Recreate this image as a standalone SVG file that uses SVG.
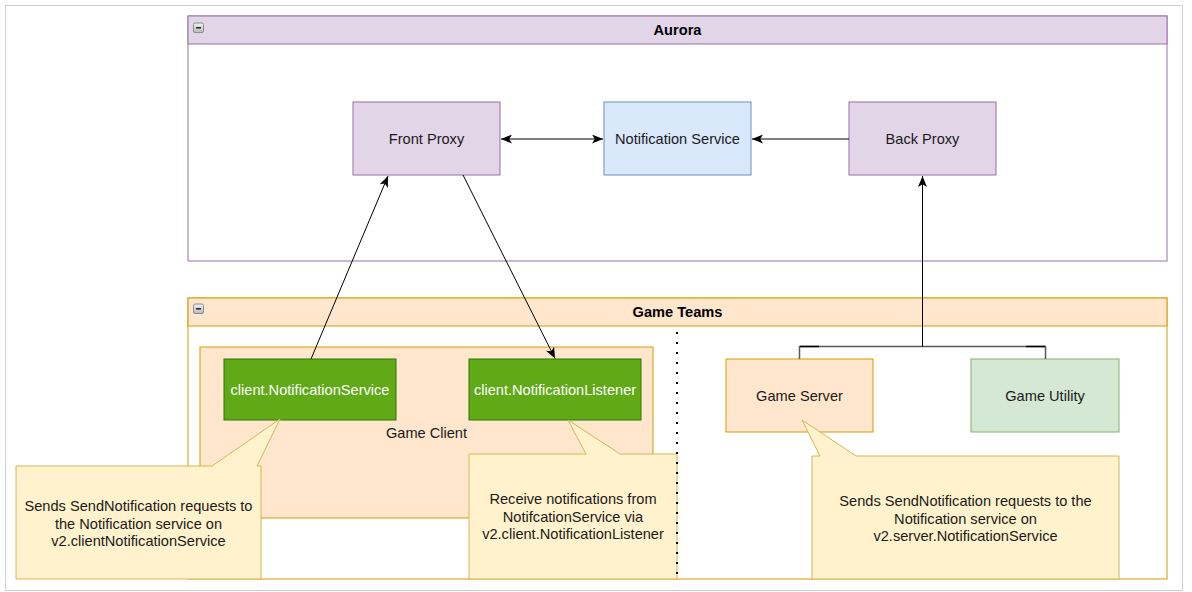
<svg xmlns="http://www.w3.org/2000/svg" width="1192" height="592" viewBox="0 0 1192 592">
  <style>
    text { font-family: "Liberation Sans", Arial, sans-serif; font-size: 14.6px; fill: #1a1a1a; text-anchor: middle; }
    .title { font-weight: bold; fill: #000; }
    .white { fill: #ffffff; }
    .purple { fill: #e1d5e7; stroke: #9673a6; stroke-width: 1; }
    .blue { fill: #dae8fc; stroke: #6c8ebf; stroke-width: 1; }
    .orange { fill: #ffe6cc; stroke: #d79b00; stroke-width: 1; }
    .green { fill: #d5e8d4; stroke: #82b366; stroke-width: 1; }
    .dgreen { fill: #60a917; stroke: #2d7600; stroke-width: 1; }
    .callout { fill: #fff2cc; stroke: #d6b656; stroke-width: 1; }
    .edge { fill: none; stroke: #000; stroke-width: 1; }
    .icon { fill: url(#ig); stroke: #8c8c8c; stroke-width: 1; }
  </style>
  <defs>
    <linearGradient id="ig" x1="0" y1="0" x2="0" y2="1">
      <stop offset="0" stop-color="#f2f2f2"/>
      <stop offset="1" stop-color="#b8b8b8"/>
    </linearGradient>
    <marker id="arr" viewBox="0 0 11 9" refX="11" refY="4.5" markerWidth="11" markerHeight="9" markerUnits="userSpaceOnUse" orient="auto-start-reverse">
      <path d="M0,0 L11,4.5 L0,9 L2.8,4.5 Z" fill="#000"/>
    </marker>
  </defs>

  <rect x="0" y="0" width="1192" height="592" fill="#ffffff"/>
  <rect x="5.5" y="5.5" width="1177" height="585" fill="none" stroke="#d0d0d0" stroke-width="1"/>

  <!-- Aurora container -->
  <g id="aurora">
    <rect x="188" y="16" width="979" height="245" fill="#ffffff" stroke="#9673a6"/>
    <rect x="188" y="16" width="979" height="28" class="purple"/>
    <rect x="193.5" y="23" width="10" height="9.5" rx="1.5" class="icon"/>
    <line x1="196" y1="27.8" x2="201" y2="27.8" stroke="#222" stroke-width="1.5"/>
    <text class="title" x="677.5" y="35">Aurora</text>
  </g>

  <!-- Game Teams container -->
  <g id="game-teams">
    <rect x="188" y="298" width="979" height="281" fill="#ffffff" stroke="#d79b00"/>
    <rect x="188" y="298" width="979" height="28" class="orange"/>
    <rect x="193.5" y="304" width="10" height="9.5" rx="1.5" class="icon"/>
    <line x1="196" y1="308.8" x2="201" y2="308.8" stroke="#222" stroke-width="1.5"/>
    <text class="title" x="677.5" y="317">Game Teams</text>
  </g>

  <g id="front-proxy">
    <rect x="353" y="102" width="147" height="73" class="purple"/>
    <text x="426.5" y="143.5">Front Proxy</text>
  </g>
  <g id="notification-service">
    <rect x="604" y="102" width="147" height="73" class="blue"/>
    <text x="677.5" y="144">Notification Service</text>
  </g>
  <g id="back-proxy">
    <rect x="849" y="102" width="147" height="73" class="purple"/>
    <text x="922.5" y="144">Back Proxy</text>
  </g>

  <g id="game-client">
    <rect x="200" y="347" width="453" height="171" class="orange"/>
    <text x="426.5" y="437.5">Game Client</text>
  </g>
  <g id="client-notification-service">
    <rect x="224" y="359" width="172" height="61" class="dgreen"/>
    <text class="white" x="310" y="394.5">client.NotificationService</text>
  </g>
  <g id="client-notification-listener">
    <rect x="469" y="359" width="172" height="61" class="dgreen"/>
    <text class="white" x="555" y="394.5">client.NotificationListener</text>
  </g>

  <g id="game-server">
    <rect x="726" y="359" width="147" height="73" class="orange"/>
    <text x="799.5" y="401">Game Server</text>
  </g>
  <g id="game-utility">
    <rect x="971" y="359" width="148" height="73" class="green"/>
    <text x="1045" y="401">Game Utility</text>
  </g>

  <!-- callouts -->
  <g id="callout-client-service">
    <path d="M16,466 L212,466 L280,419 L257,466 L261,466 L261,579 L16,579 Z" class="callout"/>
    <text x="138.5" y="511">Sends SendNotification requests to</text>
    <text x="138.5" y="528.5">the Notification service on</text>
    <text x="138.5" y="545.5">v2.clientNotificationService</text>
  </g>
  <g id="callout-client-listener">
    <path d="M469,454 L586,454 L568,420 L620,454 L677,454 L677,579 L469,579 Z" class="callout"/>
    <text x="573" y="504">Receive notifications from</text>
    <text x="573" y="521.7">NotifcationService via</text>
    <text x="573" y="539.3">v2.client.NotificationListener</text>
  </g>
  <g id="callout-game-server">
    <path d="M812,456 L820,456 L802,420 L856,456 L1119,456 L1119,579 L812,579 Z" class="callout"/>
    <text x="965.5" y="506">Sends SendNotification requests to the</text>
    <text x="965.5" y="523.7">Notification service on</text>
    <text x="965.5" y="541">v2.server.NotificationService</text>
  </g>

  <!-- divider -->
  <line id="divider" x1="677" y1="332" x2="677" y2="579" stroke="#000" stroke-width="2" stroke-dasharray="2 8"/>

  <!-- connectors -->
  <g id="connectors">
    <line class="edge" x1="501" y1="139" x2="603" y2="139" marker-start="url(#arr)" marker-end="url(#arr)"/>
    <line class="edge" x1="849" y1="139" x2="752" y2="139" marker-end="url(#arr)"/>
    <line class="edge" x1="311" y1="359" x2="388" y2="176" marker-end="url(#arr)"/>
    <line class="edge" x1="463" y1="175" x2="555" y2="358.5" marker-end="url(#arr)"/>
    <polyline points="799.5,359 799.5,346.5 1045.5,346.5 1045.5,359" fill="none" stroke="#595959" stroke-width="1.5"/>
    <line x1="800" y1="346.5" x2="819" y2="346.5" stroke="#000" stroke-width="1.5"/>
    <line x1="1026" y1="346.5" x2="1045" y2="346.5" stroke="#000" stroke-width="1.5"/>
    <line class="edge" x1="922.5" y1="346.5" x2="922.5" y2="176" marker-end="url(#arr)"/>
  </g>
</svg>
